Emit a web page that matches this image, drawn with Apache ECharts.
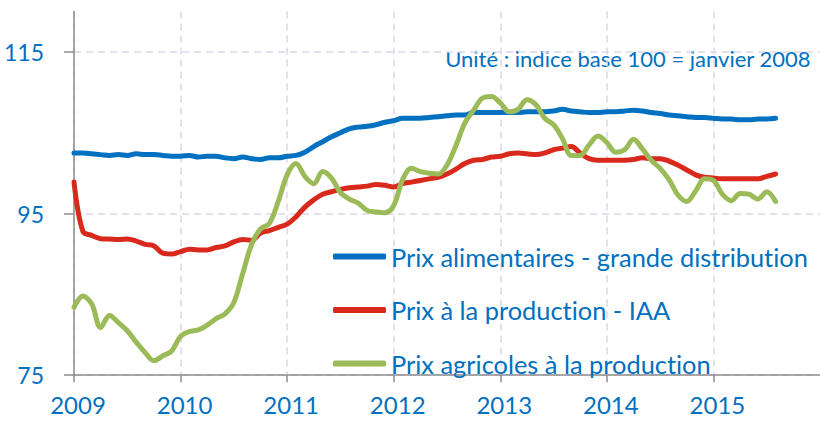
<!DOCTYPE html>
<html><head><meta charset="utf-8">
<script src="https://cdn.jsdelivr.net/npm/echarts@6/dist/echarts.min.js"></script>
<style>html,body{margin:0;padding:0;background:#fff}#c{width:820px;height:421px}
#c text{font-variant-ligatures:none !important;font-feature-settings:"liga" 0,"clig" 0 !important}</style>
</head><body><div id="c"></div>
<script>
const startYear = 2009;
const seriesNames = ['Prix alimentaires - grande distribution', 'Prix à la production - IAA', 'Prix agricoles à la production'];
const yTicks = [75, 95, 115];
const xYears = [2009, 2010, 2011, 2012, 2013, 2014, 2015];
const unitText = 'Unité : indice base 100 = janvier 2008';

const alimentaires = [
 102.5,102.5,102.4,102.3,102.2,102.3,102.2,102.4,102.3,102.3,102.2,102.1,
 102.1,102.2,102.0,102.1,102.1,101.9,101.8,102.0,101.8,101.7,101.9,101.9,
 102.1,102.2,102.6,103.3,103.9,104.5,105.0,105.5,105.7,105.8,106.0,106.3,
 106.5,106.8,106.8,106.8,106.9,107.0,107.1,107.2,107.2,107.5,107.5,107.5,
 107.5,107.5,107.5,107.6,107.6,107.6,107.7,107.9,107.7,107.6,107.5,107.5,
 107.6,107.6,107.7,107.8,107.7,107.5,107.4,107.2,107.1,107.0,106.9,106.9,
 106.8,106.7,106.7,106.6,106.6,106.7,106.7,106.8];
const productionIAA = [
 98.9,92.8,92.3,91.9,91.85,91.8,91.85,91.6,91.2,91.0,90.1,90.0,
 90.3,90.6,90.5,90.5,90.8,91.0,91.5,91.8,91.7,92.6,92.9,93.3,
 93.7,94.6,95.8,96.7,97.4,97.7,98.0,98.2,98.3,98.4,98.6,98.5,
 98.3,98.7,98.9,99.1,99.3,99.5,99.9,100.5,101.2,101.6,101.7,102.0,
 102.1,102.4,102.5,102.4,102.3,102.5,102.9,103.1,103.3,102.5,101.8,101.6,
 101.6,101.6,101.6,101.7,101.9,101.8,101.8,101.5,101.0,100.4,99.8,99.5,
 99.4,99.3,99.3,99.3,99.3,99.3,99.6,99.9];
const agricoles = [
 83.4,84.8,83.8,80.9,82.4,81.5,80.5,79.1,77.8,76.8,77.4,78.0,
 79.8,80.4,80.6,81.2,82.0,82.6,84.0,87.6,91.2,93.1,93.8,96.5,
 99.8,101.2,99.6,98.7,100.2,99.4,97.6,96.8,96.3,95.4,95.2,95.1,
 96.0,99.2,100.6,100.2,100.0,99.9,101.0,103.4,106.2,107.8,109.3,109.5,
 108.7,107.6,107.9,109.1,108.5,106.8,106.0,104.3,102.2,102.2,103.5,104.6,
 103.8,102.6,102.9,104.2,103.0,101.6,100.6,99.2,97.3,96.5,97.8,99.3,
 99.1,97.4,96.6,97.5,97.4,96.8,97.7,96.5];

const months = alimentaires.map((_, i) => startYear + i / 12);
const pairs = arr => arr.map((v, i) => [months[i], v]);

const BLUE = '#0070C0', RED = '#D9291C', GREEN = '#9BBB59';
const GRID = '#DCD6E8', AXIS = '#8C8C8C';
const FONT = 'Lato';

const chart = echarts.init(document.getElementById('c'), null, {renderer: 'svg'});
const mk = (name, data, color) => ({
  name, type: 'line', data: pairs(data), smooth: 0.35, showSymbol: false, symbol: 'none',
  lineStyle: {color, width: 5, cap: 'round', join: 'round'}, itemStyle: {color},
  emphasis: {disabled: true}, animation: false
});
chart.setOption({
  animation: false,
  grid: {left: 74, top: 11.6, width: 747, height: 363.6, containLabel: false},
  xAxis: {
    type: 'value', min: 2009, max: 2016, interval: 1,
    axisLine: {show: true, lineStyle: {color: AXIS, width: 1.5}},
    axisTick: {show: true, length: 7, lineStyle: {color: AXIS, width: 1.5}, customValues: xYears},
    axisLabel: {color: BLUE, fontFamily: FONT, fontSize: 24, margin: 17, padding: [0, 0, 0, 8], customValues: xYears, formatter: v => String(v)},
    splitLine: {show: true, lineStyle: {color: GRID, type: [7, 5], width: 1.5}}
  },
  yAxis: {
    type: 'value', min: 75, max: 120, interval: 20,
    axisLine: {show: true, lineStyle: {color: AXIS, width: 1.5}},
    axisTick: {show: true, length: 10, lineStyle: {color: AXIS, width: 1.5}, customValues: yTicks},
    axisLabel: {color: BLUE, fontFamily: FONT, fontSize: 23, margin: 30, customValues: yTicks},
    splitLine: {show: true, lineStyle: {color: [GRID, GRID, GRID, 'rgba(0,0,0,0)'], type: [7, 5], width: 1.5}}
  },
  legend: {
    orient: 'vertical', left: 333, top: 241.5, padding: 0, itemGap: 23.5, itemWidth: 53, itemHeight: 6,
    icon: 'roundRect', data: seriesNames, selectedMode: false,
    textStyle: {color: BLUE, fontFamily: FONT, fontSize: 25.4, lineHeight: 30, padding: [0, 0, 0, 0]}
  },
  graphic: [{
    type: 'text', right: 9, top: 47,
    style: {text: unitText, fill: BLUE, font: '22px Lato'}
  }],
  series: [
    mk(seriesNames[0], alimentaires, BLUE),
    mk(seriesNames[1], productionIAA, RED),
    mk(seriesNames[2], agricoles, GREEN)
  ]
});
</script></body></html>
